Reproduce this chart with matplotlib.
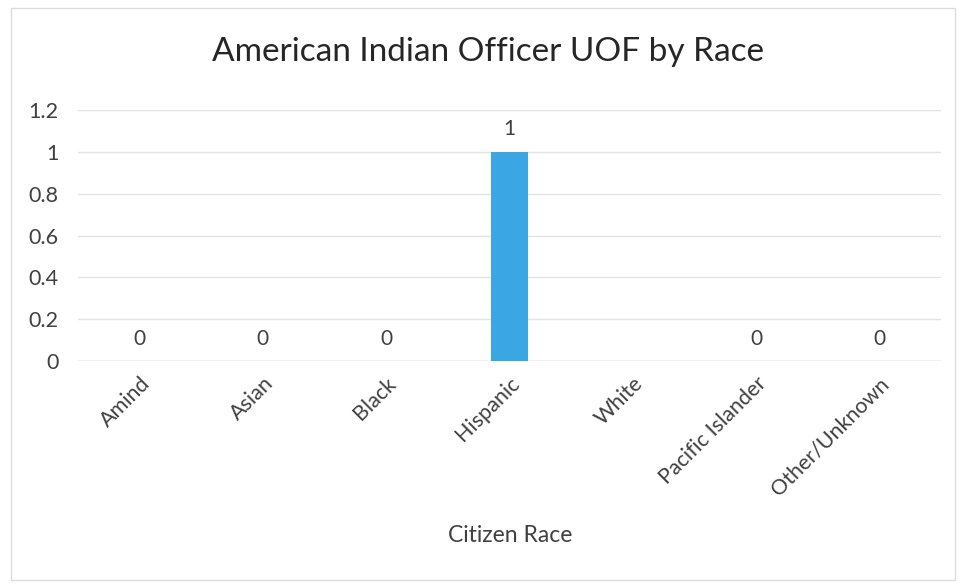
"""American Indian Officer UOF by Race - bar chart recreation."""

import numpy as np
import matplotlib
matplotlib.use("Agg")
import matplotlib.pyplot as plt
from matplotlib.patches import Rectangle

categories = ["Amind", "Asian", "Black", "Hispanic", "White",
              "Pacific Islander", "Other/Unknown"]
# White has no value in the source (no label drawn)
counts = [0, 0, 0, 1, np.nan, 0, 0]
y_ticks = [0, 0.2, 0.4, 0.6, 0.8, 1, 1.2]
y_tick_labels = ["0", "0.2", "0.4", "0.6", "0.8", "1", "1.2"]

plt.rcParams["font.family"] = ["Lato", "DejaVu Sans"]
text_col = "#404040"

fig = plt.figure(figsize=(9.69, 5.87), dpi=100)
ax = fig.add_axes([0.0805, 0.385, 0.8905, 0.4276])

x = np.arange(len(categories))
ax.bar(x, np.nan_to_num(counts), width=0.3, color="#3aa6e4", zorder=3)

for xi, v in zip(x, counts):
    if np.isnan(v):
        continue
    ax.annotate(f"{int(v)}", (xi, v), xytext=(0, 9), textcoords="offset points",
                ha="center", va="bottom", fontsize=15, color=text_col)

ax.set_xlim(-0.5, len(categories) - 0.5)
ax.set_ylim(0, 1.2)
ax.set_yticks(y_ticks)
ax.set_yticklabels(y_tick_labels)
ax.set_xticks(x)
ax.set_xticklabels(categories, rotation=45, ha="right", rotation_mode="anchor")
ax.tick_params(axis="both", length=0, labelsize=15.5, colors=text_col)
ax.tick_params(axis="x", pad=9)
ax.tick_params(axis="y", pad=14)
ax.grid(True, axis="y", color="#e3e3e3", linewidth=1, zorder=0)
for s in ax.spines.values():
    s.set_visible(False)
ax.axhline(0, color="#d0d0d0", linewidth=1, zorder=1)

fig.text(0.526, 0.087, "Citizen Race", ha="center", va="center",
         fontsize=16.5, color=text_col)
fig.text(0.504, 0.911, "American Indian Officer UOF by Race", ha="center",
         va="center", fontsize=24, color="#262626")

fig.patches.append(Rectangle((0.011, 0.012), 0.975, 0.975, transform=fig.transFigure,
                             fill=False, edgecolor="#dcdcdc", linewidth=1))

fig.savefig("out.png", dpi=100)
